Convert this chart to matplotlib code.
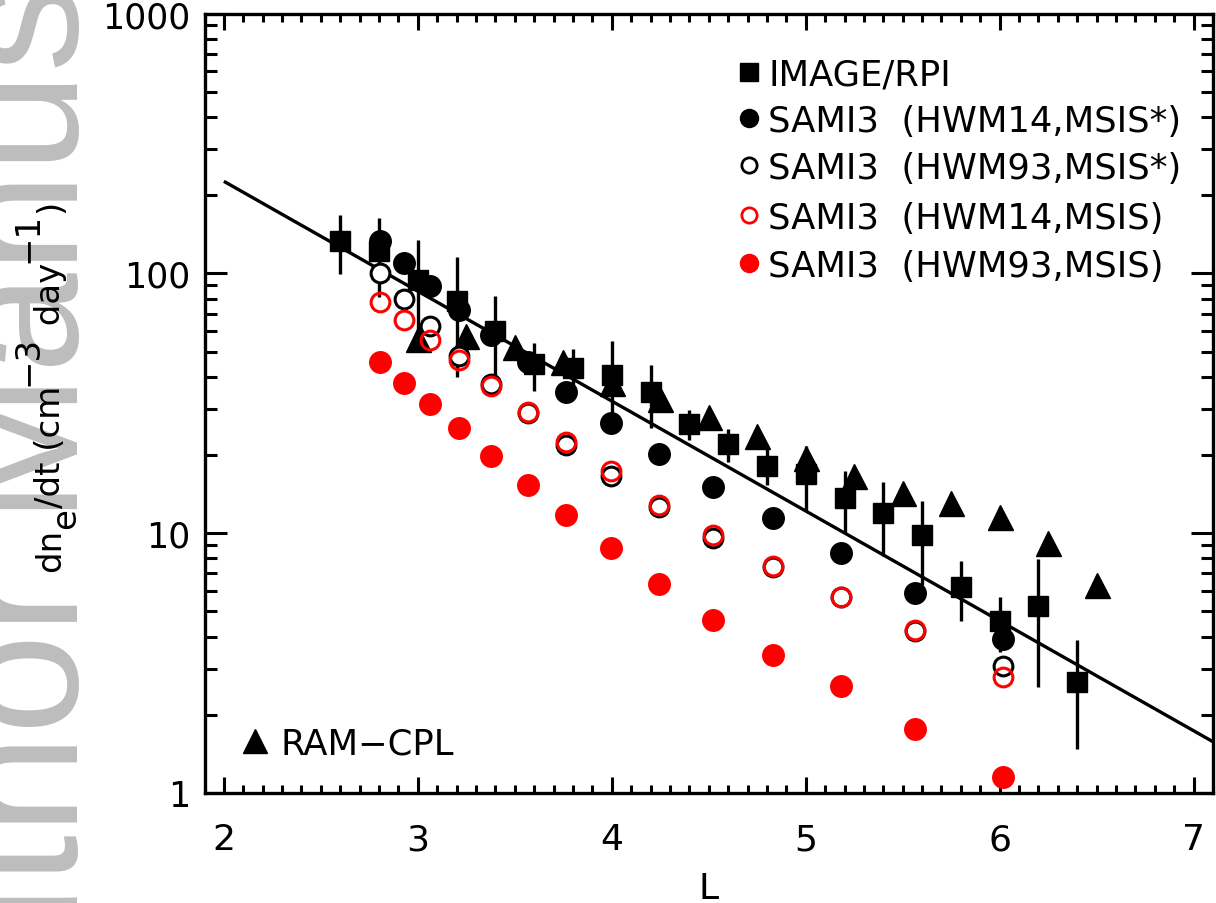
import matplotlib
matplotlib.use("Agg")
import matplotlib.pyplot as plt
from matplotlib.ticker import FixedLocator, NullFormatter, MultipleLocator, LogLocator
from matplotlib.transforms import IdentityTransform
import numpy as np

plt.rcParams['font.family'] = ['DejaVu Sans']
plt.rcParams['mathtext.default'] = 'regular'

# ---------------- data ----------------
L_rpi = [2.6, 2.8, 3.0, 3.2, 3.4, 3.6, 3.8, 4.0, 4.2, 4.4, 4.6, 4.8, 5.0, 5.2, 5.4, 5.6, 5.8, 6.0, 6.2, 6.4]
rpi = [133, 122, 94, 78, 60, 44.7, 43.4, 40.5, 34.8, 26.3, 22.0, 18.2, 16.9, 13.7, 12.0, 9.8, 6.2, 4.6, 5.25, 2.68]
rpi_err = [34, 41, 40, 38, 22, 9.3, 7.7, 14.5, 9.5, 3.4, 3.2, 2.9, 4.7, 3.7, 3.8, 3.5, 1.6, 1.1, 2.7, 1.2]

L_ram = [3.0, 3.25, 3.5, 3.75, 4.0, 4.25, 4.5, 4.75, 5.0, 5.25, 5.5, 5.75, 6.0, 6.25, 6.5]
ram = [55.7, 57.4, 52, 45.4, 38, 32.7, 28, 23.7, 19.5, 16.6, 14.3, 13.1, 11.5, 9.2, 6.3]

L_sami = [2.805, 2.93, 3.064, 3.21, 3.378, 3.57, 3.765, 3.996, 4.243, 4.521, 4.83, 5.181, 5.566, 6.015]
sami_h14_msisx = [133, 110, 89.5, 72, 58, 45.5, 34.8, 26.5, 20.1, 15.1, 11.4, 8.38, 5.91, 3.91]
sami_h93_msisx = [100.6, 80, 62.7, 48, 37.5, 29.0, 21.9, 16.6, 12.6, 9.6, 7.4, 5.66, 4.19, 3.09]
sami_h14_msis = [77.6, 66.1, 55.4, 46.2, 37, 29.3, 22.4, 17.3, 12.8, 9.8, 7.5, 5.66, 4.24, 2.79]
sami_h93_msis = [45.6, 38, 31.4, 25.3, 19.8, 15.3, 11.7, 8.73, 6.40, 4.63, 3.41, 2.57, 1.77, 1.15]

fit_L = [2.0, 7.1]
fit_val = [226, 1.575]

x_ticks = [2, 3, 4, 5, 6, 7]
y_ticks = [1, 10, 100, 1000]
y_ticklabels = ['1', '10', '100', '1000']

legend_labels = ['IMAGE/RPI',
                 'SAMI3  (HWM14,MSIS*)',
                 'SAMI3  (HWM93,MSIS*)',
                 'SAMI3  (HWM14,MSIS)',
                 'SAMI3  (HWM93,MSIS)']
ram_label = 'RAM\u2212CPL'
# y-label pieces: (text, shift) shift: 0 normal, -1 subscript, +1 superscript
ylabel_parts = [('dn', 0), ('e', -1), ('/dt (cm', 0), ('\u22123', 1), (' day', 0), ('\u22121', 1), (')', 0)]
watermark = 'Author Manuscript'

RED = '#ff0000'
FS = 25

# ---------------- figure ----------------
fig = plt.figure(figsize=(12.16, 9.04), dpi=100)
fig.patch.set_facecolor('white')

# watermark
fig.text(78/1216, -0.222, watermark, rotation=90, rotation_mode='anchor',
         ha='left', va='baseline', fontsize=130, color='#bdbdbd', zorder=0,
         family='Liberation Sans')

ax = fig.add_axes([204.5/1216, 110/904, 1008.5/1216, 779.5/904])
ax.patch.set_alpha(0)
ax.set_yscale('log')
ax.set_xlim(1.9, 7.1)
ax.set_ylim(1, 1000)

ax.plot(fit_L, fit_val, color='black', lw=2.4, zorder=2, solid_capstyle='butt')

ax.errorbar(L_rpi, rpi, yerr=rpi_err, fmt='s', color='black', ms=15, elinewidth=2.4,
            capsize=0, zorder=3)
ax.plot(L_ram, ram, '^', color='black', ms=18, zorder=3)
ax.plot(L_sami, sami_h14_msisx, 'o', color='black', ms=15.5, zorder=4)
ax.plot(L_sami, sami_h93_msisx, 'o', mfc='white', mec='black', mew=2.2, ms=13.5, zorder=4)
ax.plot(L_sami, sami_h14_msis, 'o', mfc='none', mec=RED, mew=2.2, ms=13.5, zorder=5)
ax.plot(L_sami, sami_h93_msis, 'o', color=RED, ms=15.5, zorder=5)

# ticks
ax.xaxis.set_major_locator(FixedLocator(x_ticks))
ax.xaxis.set_minor_locator(MultipleLocator(0.1))
ax.yaxis.set_major_locator(FixedLocator(y_ticks))
ax.set_yticklabels(y_ticklabels)
ax.yaxis.set_minor_locator(LogLocator(base=10, subs=np.arange(2, 10)))
ax.yaxis.set_minor_formatter(NullFormatter())
ax.tick_params(axis='both', which='both', direction='in', top=True, right=True, width=2.2)
ax.tick_params(axis='y', which='major', length=15.8, pad=10, labelsize=FS)
ax.tick_params(axis='y', which='minor', length=8.6)
ax.tick_params(axis='x', which='major', length=11.5, pad=21, labelsize=FS + 1)
ax.tick_params(axis='x', which='minor', length=5.8)
for s in ax.spines.values():
    s.set_linewidth(2.4)

ax.set_xlabel('L', fontsize=FS + 1)
ax.xaxis.set_label_coords(0.5, -0.100)

# legend (manual, IDL-style)
rows = [0.925, 0.866, 0.806, 0.741, 0.680]
mx, tx = 0.540, 0.559
styles = [dict(marker='s', color='black', ms=13),
          dict(marker='o', color='black', ms=13),
          dict(marker='o', mfc='white', mec='black', mew=2.0, ms=11),
          dict(marker='o', mfc='white', mec=RED, mew=2.0, ms=11),
          dict(marker='o', color=RED, ms=13)]
for yv, lab, st in zip(rows, legend_labels, styles):
    ax.plot([mx], [yv], transform=ax.transAxes, ls='none', clip_on=False, zorder=6, **st)
    ax.text(tx, yv - 0.0165, lab, transform=ax.transAxes, ha='left', va='baseline',
            fontsize=FS + 0.5, zorder=6)

ax.plot([0.050], [0.067], '^', color='black', ms=17, transform=ax.transAxes, clip_on=False)
ax.text(0.075, 0.067 - 0.0165, ram_label, transform=ax.transAxes, ha='left', va='baseline',
        fontsize=FS + 0.5)

# y label built from pieces (full-size sub/superscripts, IDL style)
renderer = fig.canvas.get_renderer()
base_x = 60.0
shifts = {0: 0.0, -1: 15.0, 1: -23.0}
pieces = []
ypos = 0.0
for txt, sh in ylabel_parts:
    t = fig.text(base_x + shifts[sh], ypos, txt, transform=IdentityTransform(),
                 rotation=90, rotation_mode='anchor', ha='left', va='baseline',
                 fontsize=FS - 0.5, zorder=5)
    bb = t.get_window_extent(renderer)
    pieces.append((t, ypos))
    ypos = bb.y1
total = ypos
center = 904 - 386
start = center - total / 2.0
for t, y0 in pieces:
    x0 = t.get_position()[0]
    t.set_position((x0, start + y0))

fig.savefig('out.png', dpi=100, facecolor='white')
